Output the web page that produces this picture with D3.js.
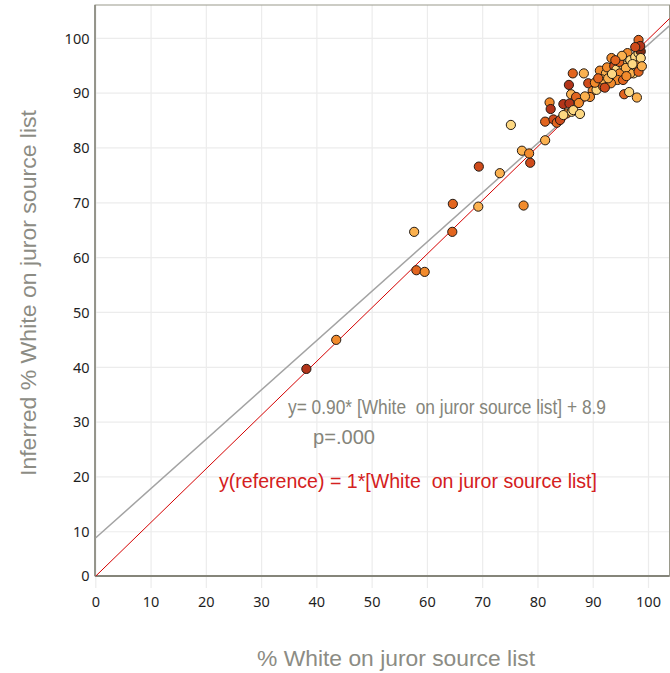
<!DOCTYPE html>
<html>
<head>
<meta charset="utf-8">
<script src="https://cdn.jsdelivr.net/npm/d3@7"></script>
<style>
  html, body { margin: 0; padding: 0; background: #fff; }
  svg { display: block; }
</style>
</head>
<body>
<svg id="chart" width="670" height="673"></svg>
<script>
// ---- Data ----
const xTicks = [0, 10, 20, 30, 40, 50, 60, 70, 80, 90, 100];
const yTicks = [0, 10, 20, 30, 40, 50, 60, 70, 80, 90, 100];

// % White on juror source list
const sourcePct = [
  38.1, 43.5, 57.6, 58.0, 59.5, 64.5, 64.6, 69.2, 69.3, 73.1,
  77.4, 78.6, 75.1, 77.1, 78.4, 81.3, 81.3, 82.8, 83.4, 82.1,
  82.3, 84.6, 85.7, 85.2, 86.1, 86.4, 87.6, 86.3, 88.3, 85.6,
  86.0, 86.9, 89.1, 89.9, 89.4, 90.6, 90.3, 91.2, 92.3, 92.5,
  93.3, 93.8, 94.2, 94.8, 95.4, 96.2, 96.7, 97.6, 98.2, 98.6,
  97.9, 97.3, 96.7, 98.2, 94.4, 93.2, 91.8, 91.6, 95.4, 95.6,
  96.5, 97.9, 98.2, 92.7, 98.6, 95.9, 94.7, 97.1, 96.0, 93.4,
  90.9, 92.1, 88.5, 98.5, 97.6, 95.2, 94.0, 98.8, 87.4, 84.0,
  84.6
];
// Inferred % White on juror source list
const inferredPct = [
  39.7, 45.0, 64.7, 57.7, 57.4, 64.7, 69.8, 69.3, 76.6, 75.4,
  69.5, 77.3, 84.2, 79.5, 79.0, 81.4, 84.8, 85.2, 84.6, 88.3,
  87.1, 88.0, 88.1, 86.3, 86.6, 86.9, 86.2, 93.6, 93.6, 91.5,
  89.8, 89.3, 91.8, 90.4, 89.3, 90.6, 91.9, 94.1, 93.6, 94.7,
  96.4, 94.9, 94.3, 93.6, 95.1, 97.3, 96.0, 96.6, 97.3, 97.6,
  95.1, 93.6, 93.6, 93.9, 92.4, 91.8, 91.2, 92.5, 92.4, 89.8,
  90.2, 89.2, 99.7, 92.7, 96.4, 94.6, 95.7, 95.3, 93.1, 93.5,
  92.7, 91.0, 89.4, 98.6, 98.4, 96.8, 96.0, 94.9, 88.2, 85.1,
  86.0
];
// colour shade class of each point (0 = lightest ... 6 = darkest)
const shade = [
  5, 2, 1, 3, 2, 3, 3, 1, 4, 1,
  2, 4, 0, 1, 2, 1, 3, 4, 3, 2,
  5, 5, 5, 2, 0, 0, 0, 3, 1, 5,
  1, 3, 4, 2, 2, 0, 2, 2, 1, 2,
  2, 4, 0, 2, 0, 2, 0, 0, 0, 6,
  2, 0, 1, 3, 2, 2, 3, 1, 3, 3,
  0, 1, 3, 1, 0, 1, 3, 0, 2, 0,
  3, 4, 1, 5, 4, 1, 3, 1, 2, 4,
  0
];
const shadeColors = ["#fdd882", "#fbb14f", "#f28b2c", "#e2651f", "#cf4b1b", "#b3351a", "#7f2a12"];

// Fit line and reference line
const fitSlope = 0.90, fitIntercept = 8.9;
const refSlope = 1, refIntercept = 0;
const lineXs = [0, 110];

const fitLabel = "y= 0.90* [White\u00a0 on juror source list] + 8.9";
const pLabel = "p=.000";
const refLabel = "y(reference) = 1*[White\u00a0 on juror source list]";
const xTitle = "% White on juror source list";
const yTitle = "Inferred % White on juror source list";

// ---- Layout ----
const svg = d3.select("#chart");
const plot = { left: 95, right: 669.5, top: 5, bottom: 576 };
const x = d3.scaleLinear().domain([0, 100]).range([95.8, 648.5]);
const y = d3.scaleLinear().domain([0, 100]).range([586.6, 38.3]);
// the reference line in the source is anchored at the axis corner
const yRef = d3.scaleLinear().domain([0, 100]).range([plot.bottom, 39]);

svg.append("defs").append("clipPath").attr("id", "clip")
  .append("rect")
  .attr("x", plot.left).attr("y", plot.top)
  .attr("width", plot.right - plot.left).attr("height", plot.bottom - plot.top);

// grid
const grid = svg.append("g");
grid.selectAll("line.v").data(xTicks).join("line")
  .attr("x1", d => x(d)).attr("x2", d => x(d))
  .attr("y1", plot.top).attr("y2", y(0) + 1.5)
  .attr("stroke", "#ececec").attr("stroke-width", 1.2);
grid.selectAll("line.h").data(yTicks.filter(d => d > 0)).join("line")
  .attr("x1", plot.left).attr("x2", plot.right)
  .attr("y1", d => y(d)).attr("y2", d => y(d))
  .attr("stroke", "#ececec").attr("stroke-width", 1.2);

// frame
svg.append("rect")
  .attr("x", plot.left).attr("y", plot.top)
  .attr("width", plot.right - plot.left).attr("height", plot.bottom - plot.top)
  .attr("fill", "none").attr("stroke", "#9a9a8c").attr("stroke-width", 1);
svg.append("line").attr("x1", plot.left).attr("x2", plot.right)
  .attr("y1", plot.bottom).attr("y2", plot.bottom)
  .attr("stroke", "#85857a").attr("stroke-width", 2);
svg.append("line").attr("x1", plot.left).attr("x2", plot.left)
  .attr("y1", plot.top).attr("y2", plot.bottom)
  .attr("stroke", "#85857a").attr("stroke-width", 1.5);

// tick labels
const tickFont = "'Noto Sans', 'Open Sans', sans-serif";
svg.append("g").selectAll("text").data(xTicks).join("text")
  .attr("x", d => x(d)).attr("y", 607)
  .attr("text-anchor", "middle")
  .attr("font-family", tickFont).attr("font-size", 14.5).attr("fill", "#1e1e1e")
  .text(d => d);
svg.append("g").selectAll("text").data(yTicks).join("text")
  .attr("x", 89.5).attr("y", d => d === 0 ? plot.bottom : y(d))
  .attr("dy", "0.36em")
  .attr("text-anchor", "end")
  .attr("font-family", tickFont).attr("font-size", 14.5).attr("fill", "#1e1e1e")
  .text(d => d);

// lines
const lines = svg.append("g").attr("clip-path", "url(#clip)");
const lineGen = d3.line().x(d => x(d[0])).y(d => y(d[1]));
const refGen = d3.line().x(d => x(d[0])).y(d => yRef(d[1]));
lines.append("path")
  .attr("d", lineGen(lineXs.map(v => [v, fitSlope * v + fitIntercept])))
  .attr("stroke", "#a3a3a3").attr("stroke-width", 1.5).attr("fill", "none");
lines.append("path")
  .attr("d", refGen(lineXs.map(v => [v, refSlope * v + refIntercept])))
  .attr("stroke", "#d40000").attr("stroke-width", 1).attr("fill", "none");

// points
const pts = sourcePct.map((v, i) => ({ sx: v, iy: inferredPct[i], s: shade[i] }));
svg.append("g").attr("clip-path", "url(#clip)")
  .selectAll("circle").data(pts).join("circle")
  .attr("cx", d => x(d.sx)).attr("cy", d => y(d.iy)).attr("r", 4.6)
  .attr("fill", d => shadeColors[d.s])
  .attr("stroke", "#231a14").attr("stroke-width", 1);

// annotations
const annFont = "'Liberation Sans', Arial, sans-serif";
svg.append("text").attr("x", 288).attr("y", 413.5)
  .attr("font-family", annFont).attr("font-size", 19.5).attr("fill", "#85857b")
  .attr("textLength", 318).attr("lengthAdjust", "spacingAndGlyphs")
  .text(fitLabel);
svg.append("text").attr("x", 313).attr("y", 443.5)
  .attr("font-family", annFont).attr("font-size", 19.5).attr("fill", "#85857b")
  .attr("textLength", 62).attr("lengthAdjust", "spacingAndGlyphs")
  .text(pLabel);
svg.append("text").attr("x", 219).attr("y", 488)
  .attr("font-family", annFont).attr("font-size", 19.5).attr("fill", "#d42020")
  .attr("textLength", 378).attr("lengthAdjust", "spacingAndGlyphs")
  .text(refLabel);

// axis titles
svg.append("text").attr("x", 396).attr("y", 666)
  .attr("text-anchor", "middle")
  .attr("font-family", annFont).attr("font-size", 22.5).attr("fill", "#8c8c84")
  .attr("textLength", 278).attr("lengthAdjust", "spacingAndGlyphs")
  .text(xTitle);
svg.append("text")
  .attr("transform", "translate(36,293) rotate(-90)")
  .attr("text-anchor", "middle")
  .attr("font-family", annFont).attr("font-size", 22.5).attr("fill", "#8c8c84")
  .attr("textLength", 366).attr("lengthAdjust", "spacingAndGlyphs")
  .text(yTitle);
</script>
</body>
</html>
